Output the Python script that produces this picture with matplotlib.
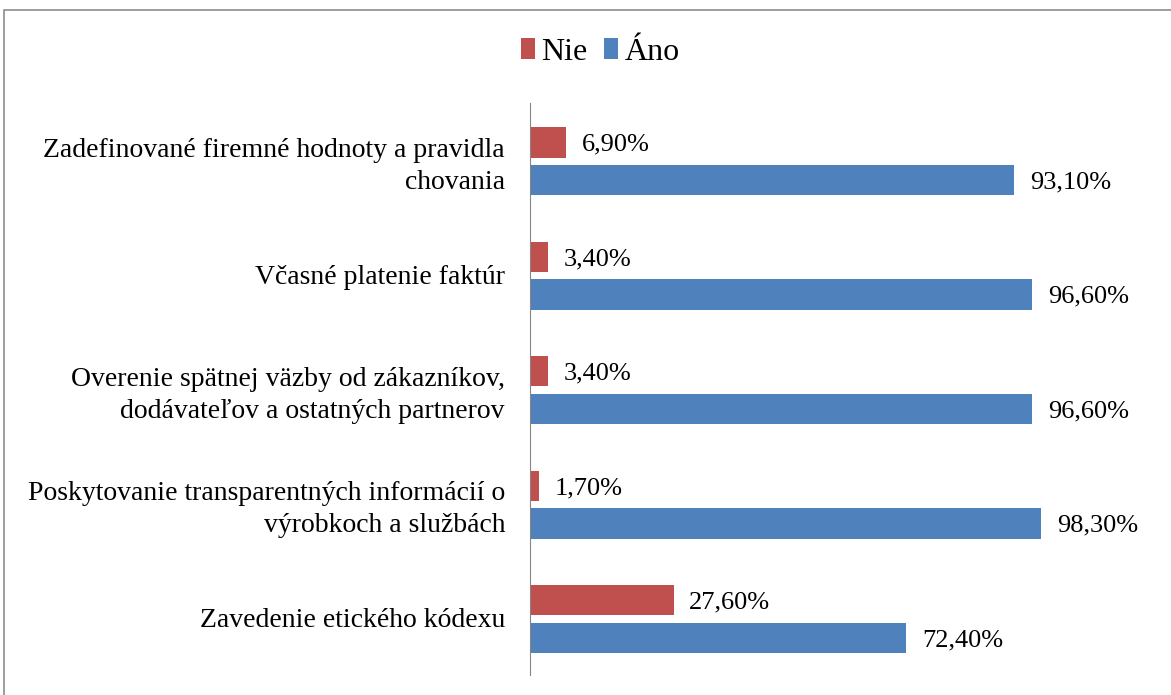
import numpy as np
import matplotlib.pyplot as plt
from matplotlib.patches import Rectangle

# Data
categories = ['Zadefinované firemné hodnoty a pravidla\nchovania',
              'Včasné platenie faktúr',
              'Overenie spätnej väzby od zákazníkov,\ndodávateľov a ostatných partnerov',
              'Poskytovanie transparentných informácií o\nvýrobkoch a službách',
              'Zavedenie etického kódexu']
nie = [6.9, 3.4, 3.4, 1.7, 27.6]
ano = [93.1, 96.6, 96.6, 98.3, 72.4]
series_names = ['Nie', 'Áno']
colors = ['#C0504D', '#4F81BD']

plt.rcParams['font.family'] = ['Liberation Serif', 'DejaVu Serif']

fig = plt.figure(figsize=(11.71, 6.95), dpi=100)

# Gray frame around the chart area
fig.patches.append(Rectangle((4 / 1171, -0.01), 1.2, 1 - 10 / 695 + 0.01,
                             transform=fig.transFigure, fill=False,
                             edgecolor='#8C8C8C', linewidth=1.2))

ax = fig.add_axes([530 / 1171, 20 / 695, 624 / 1171, 572 / 695])

y = np.arange(len(categories))
h = 0.265
off = 0.165
ax.barh(y - off + 0.01, nie, height=h, color=colors[0], label=series_names[0])
ax.barh(y + off + 0.01, ano, height=h, color=colors[1], label=series_names[1])

for yi, v in zip(y, nie):
    ax.text(v + 3.0, yi - off + 0.03, f'{v:.2f}%'.replace('.', ','), va='center', fontsize=19)
for yi, v in zip(y, ano):
    ax.text(v + 3.0, yi + off + 0.03, f'{v:.2f}%'.replace('.', ','), va='center', fontsize=19)

ax.set_xlim(0, 120)
ax.set_ylim(len(categories) - 0.5, -0.5)
ax.set_yticks(y)
ax.set_yticklabels(categories, fontsize=20, linespacing=1.35)
ax.tick_params(axis='y', length=0, pad=18)
ax.set_xticks([])
for s in ['top', 'right', 'bottom']:
    ax.spines[s].set_visible(False)
ax.spines['left'].set_color('#868686')

fig.legend(loc='center', bbox_to_anchor=(600 / 1171, 1 - 52 / 695), ncol=2,
           frameon=False, fontsize=23, handlelength=0.45, handleheight=0.65,
           handletextpad=0.2, columnspacing=0.5)

plt.savefig('out.png', dpi=100)
